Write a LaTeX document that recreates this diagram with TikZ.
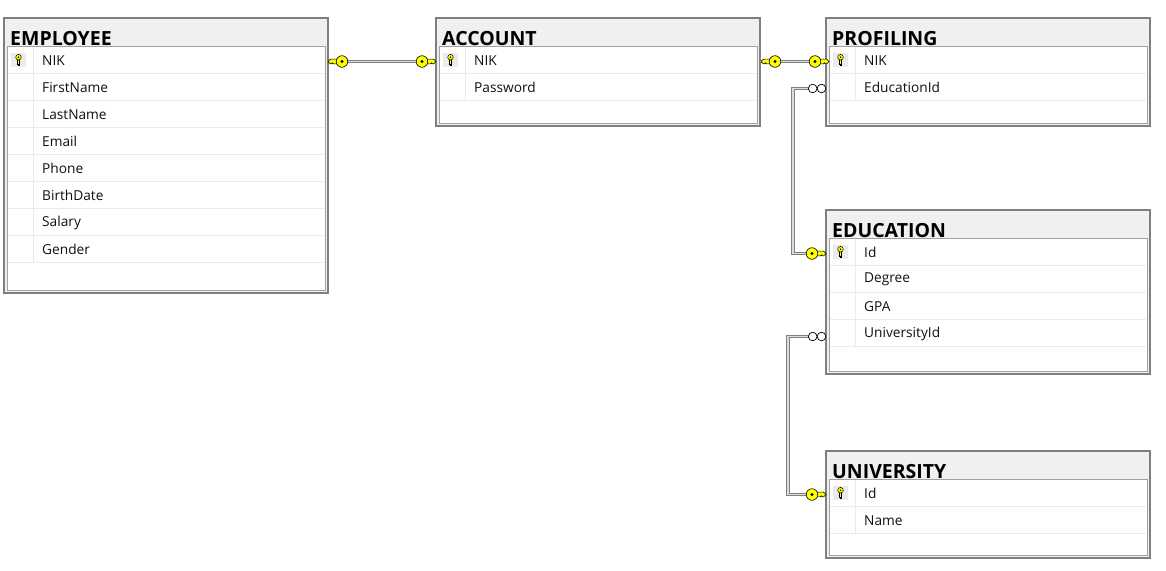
\documentclass[tikz,border=0pt]{standalone}
\usepackage{fontspec}
\setmainfont{Open Sans}
\definecolor{hdrgray}{HTML}{F0F0F0}
\definecolor{bordergray}{HTML}{7F7F7F}
\definecolor{innergray}{HTML}{A0A0A0}
\definecolor{sepgray}{HTML}{EBEBEB}
\definecolor{relgray}{HTML}{808080}
\definecolor{relcenter}{HTML}{DCDCDC}
\definecolor{keyyellow}{HTML}{FFFF00}
\definecolor{textcol}{HTML}{101010}
\newcommand\ertable[7]{%
  \pgfmathsetmacro\tL{#2}\pgfmathsetmacro\tT{#3}\pgfmathsetmacro\tB{#4}%
  \pgfmathsetmacro\tR{\tL+324}%
  \pgfmathsetmacro\tLastY{\tT+28+27*#5}%
  \draw[outerbox] (\tL,\tT) rectangle (\tR,\tB);
  \draw[innerbox] (\tL+3,\tT+28) rectangle (\tR-3,\tB-3);
  \node[tabletitle] (#1-title) at (\tL+6,\tT+27) {#6};
  \draw[rowline] (\tL+29,\tT+28.5) -- (\tL+29,\tLastY);
  \fill[keycell] (\tL+7,\tT+35) rectangle (\tL+22,\tT+49);
  \pic at (\tL+14.5,\tT+42) {rowkey};
  \foreach \f [count=\i from 0] in {#7} {
    \pgfmathsetmacro\yy{\tT+28+27*(\i+1)}
    \pgfmathsetmacro\yc{\tT+28+14.5+27*\i}
    \draw[rowline] (\tL+4,\yy) -- (\tR-4,\yy);
    \node[field] (#1-\i) at (\tL+38,\yc) {\f};
    \coordinate (#1-\i-w) at (\tL,\yc+1);
    \coordinate (#1-\i-e) at (\tR,\yc+1);
  }
}
\begin{document}
\begin{tikzpicture}[x=1pt,y=-1pt,
  outerbox/.style={fill=hdrgray, draw=bordergray, line width=1.2pt},
  innerbox/.style={fill=white, draw=innergray, line width=1pt},
  rowline/.style={draw=sepgray, line width=0.9pt},
  keycell/.style={fill=sepgray},
  tabletitle/.style={anchor=base west, inner sep=0, font=\bfseries\fontsize{19.5}{21}\selectfont, text=black},
  field/.style={anchor=west, inner sep=0, font=\fontsize{13.7}{15}\selectfont, text=textcol},
  rel/.style={draw=relgray, line width=1.1pt, double=relcenter, double distance=1.6pt, line join=miter},
  keyline/.style={draw=black, line width=0.6pt, fill=keyyellow},
  manyend/.style={draw=black, line width=0.7pt, fill=white},
  rowkey/.pic={
    \draw[keyline, line width=0.5pt] (-1.2,-1) -- (1.2,-1) -- (1.2,5.6) -- (-0.2,5.6) -- (-0.2,4.3) -- (-1.2,4.3) -- cycle;
    \draw[keyline, line width=0.5pt] (0,-2.8) circle (2.8);
    \fill[black] (0,-2.8) circle (0.8);
  },
  fkkey/.pic={
    \draw[keyline] (3,-2.4) -- (11.5,-2.4) -- (14,0) -- (11.5,2.4) -- (10.5,2.4) -- (9.5,1.3) -- (8.5,2.4) -- (3,2.4) -- cycle;
    \draw[keyline] (0,0) circle (5.8);
    \fill[black] (0,0) circle (1.7);
  },
]
\useasboundingbox (0,0) rectangle (1166,570);
\fill[white] (0,0) rectangle (1166,570);

\ertable{EMP}{4}{18}{293}{8}{EMPLOYEE}{NIK,FirstName,LastName,Email,Phone,BirthDate,Salary,Gender}
\ertable{ACC}{436}{18}{126}{2}{ACCOUNT}{NIK,Password}
\ertable{PROF}{826}{18}{126}{2}{PROFILING}{NIK,EducationId}
\ertable{EDU}{826}{210}{374}{4}{EDUCATION}{Id,Degree,GPA,UniversityId}
\ertable{UNI}{826}{451}{558}{2}{UNIVERSITY}{Id,Name}

% connectors
\draw[rel] (EMP-0-e) -- (ACC-0-w);
\draw[rel] (ACC-0-e) -- (PROF-0-w);
\draw[rel] ([xshift=-17]PROF-1-w) -- ([xshift=-33]PROF-1-w) |- (EDU-0-w);
\draw[rel] ([xshift=-17,yshift=-2]EDU-3-w) -- ([xshift=-38,yshift=-2]EDU-3-w) |- (UNI-0-w);

% key ends
\pic[xscale=-1] at ([xshift=14]EMP-0-e) {fkkey};
\pic at ([xshift=-14]ACC-0-w) {fkkey};
\pic[xscale=-1] at ([xshift=15]ACC-0-e) {fkkey};
\pic at ([xshift=-11]PROF-0-w) {fkkey};
\pic at ([xshift=-14]EDU-0-w) {fkkey};
\pic at ([xshift=-14]UNI-0-w) {fkkey};

% many ends
\draw[manyend] ([xshift=-4.5]PROF-1-w) circle (4.3);
\draw[manyend] ([xshift=-13.3]PROF-1-w) circle (4.3);
\draw[manyend] ([xshift=-4.5,yshift=-2]EDU-3-w) circle (4.3);
\draw[manyend] ([xshift=-13.3,yshift=-2]EDU-3-w) circle (4.3);
\end{tikzpicture}
\end{document}
